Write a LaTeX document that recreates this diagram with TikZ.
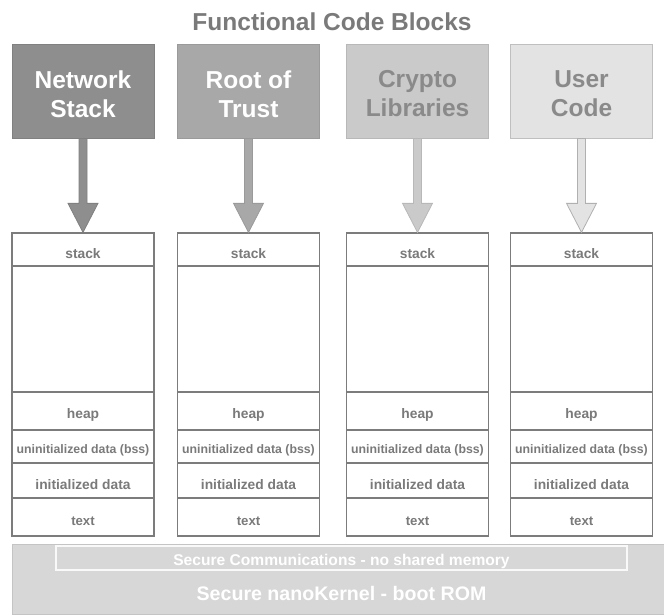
\documentclass[tikz,border=0pt]{standalone}
\usepackage{fontspec}
\setmainfont{Liberation Sans}
\usetikzlibrary{calc}
\definecolor{fillA}{HTML}{8E8E8E}
\definecolor{lineA}{HTML}{808080}
\definecolor{fillB}{HTML}{A8A8A8}
\definecolor{lineB}{HTML}{9A9A9A}
\definecolor{fillC}{HTML}{CACACA}
\definecolor{lineC}{HTML}{B8B8B8}
\definecolor{fillD}{HTML}{E3E3E3}
\definecolor{lineD}{HTML}{B0B0B0}
\definecolor{titlegray}{HTML}{7A7A7A}
\definecolor{labgray}{HTML}{8A8A8A}
\definecolor{memline}{HTML}{7C7C7C}
\definecolor{memtext}{HTML}{7A7A7A}
\definecolor{basefill}{HTML}{D7D7D7}
\definecolor{baseline}{HTML}{C4C4C4}
\begin{document}
\begin{tikzpicture}[x=1pt,y=-1pt,
  topbox/.style={rectangle, minimum width=142pt, minimum height=94pt, inner sep=0pt,
    line width=1pt},
  toplabel/.style={align=center, font=\fontsize{24.5}{29}\selectfont\bfseries},
  memrow/.style={rectangle, draw=memline, line width=1.3pt, fill=white,
    minimum width=142pt, inner sep=0pt},
  memlab/.style={text=memtext, inner sep=0pt, yshift=-4pt},
  memfont/.style={font=\fontsize{13.8}{15}\selectfont\bfseries},
  bssfont/.style={font=\fontsize{12.3}{13}\selectfont\bfseries},
  textfont/.style={font=\fontsize{13.2}{15}\selectfont\bfseries},
  bigarrow/.style={line width=0.8pt, line join=miter}
]
\useasboundingbox (0,0) rectangle (664,614);

% title
\node[text=titlegray, font=\fontsize{24.5}{29}\selectfont\bfseries] (title) at (332,22) {Functional Code Blocks};

% top boxes
\node[topbox, fill=fillA, draw=lineA,
  label={[toplabel, text=white, yshift=-3pt]center:Network\\Stack}] (b1) at (83,91) {};
\node[topbox, fill=fillB, draw=lineB,
  label={[toplabel, text=white, yshift=-3pt]center:Root of\\Trust}] (b2) at (248.5,91) {};
\node[topbox, fill=fillC, draw=lineC,
  label={[toplabel, text=labgray, yshift=-3pt]center:Crypto\\Libraries}] (b3) at (417.5,91) {};
\node[topbox, fill=fillD, draw=lineD!70!fillD,
  label={[toplabel, text=labgray, yshift=-3pt]center:User\\Code}] (b4) at (581.5,91) {};

% memory columns
\foreach \i/\cx in {1/83, 2/248.5, 3/417.5, 4/581.5} {
  \node[memrow, minimum height=33pt, label={[memlab, memfont]center:stack}] (s\i) at (\cx,249.5) {};
  \node[memrow, minimum height=126pt] (f\i) at (\cx,329) {};
  \node[memrow, minimum height=38pt, label={[memlab, memfont]center:heap}] (h\i) at (\cx,411) {};
  \node[memrow, minimum height=33pt, label={[memlab, bssfont]center:uninitialized data (bss)}] (u\i) at (\cx,446.5) {};
  \node[memrow, minimum height=35pt, label={[memlab, memfont]center:initialized data}] (d\i) at (\cx,480.5) {};
  \node[memrow, minimum height=38pt, label={[memlab, textfont]center:text}] (t\i) at (\cx,517) {};
}

% arrows
\foreach \i/\fc/\lc in {1/fillA/lineA, 2/fillB/lineB, 3/fillC/lineC, 4/fillD/lineD} {
  \path let \p1=(b\i.south), \p2=(s\i.north) in
    [bigarrow, fill=\fc, draw=\lc]
    (\x1-4pt,\y1) -- (\x1-4pt,\y2+29pt) -- (\x1-15pt,\y2+29pt) -- (\x2,\y2)
    -- (\x1+15pt,\y2+29pt) -- (\x1+4pt,\y2+29pt) -- (\x1+4pt,\y1) -- cycle;
}

% base
\node[rectangle, fill=basefill, draw=baseline, line width=0.6pt, inner sep=0pt,
  minimum width=652pt, minimum height=70pt] (rom) at (338,579) {};
\node[rectangle, fill=basefill, draw=white!85!basefill, line width=1.5pt, inner sep=0pt,
  minimum width=571pt, minimum height=24pt,
  label={[text=white, yshift=-3pt, font=\fontsize{15.6}{17}\selectfont\bfseries]center:Secure Communications - no shared memory}] (comm) at (341.5,558) {};
\node[text=white, font=\fontsize{19.6}{22}\selectfont\bfseries] (romtext) at (341.5,593.5) {Secure nanoKernel - boot ROM};
\end{tikzpicture}
\end{document}
